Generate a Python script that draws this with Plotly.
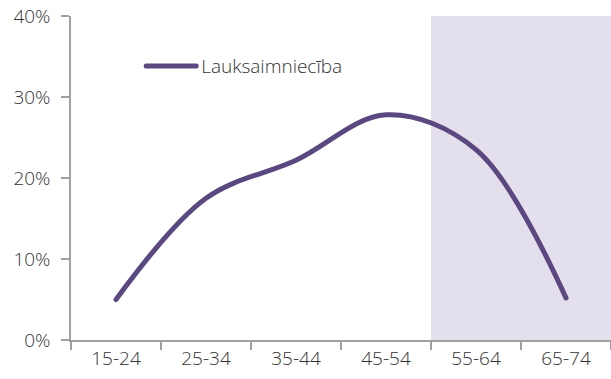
import plotly.graph_objects as go

categories = ["15-24", "25-34", "35-44", "45-54", "55-64", "65-74"]
values = [0.050, 0.175, 0.222, 0.278, 0.235, 0.052]
series_name = "Lauksaimniecība"
y_ticks = [0, 0.1, 0.2, 0.3, 0.4]
y_tick_labels = ["0%", "10%", "20%", "30%", "40%"]

line_color = "#5B4880"
shade_color = "#E4DFEC"
axis_color = "#A0A0A0"
font_color = "#333333"

fig = go.Figure()
fig.add_trace(go.Scatter(
    x=categories, y=values, name=series_name, mode="lines",
    line=dict(color=line_color, width=5, shape="spline", smoothing=1.0),
    showlegend=True,
))

fig.add_shape(type="rect", xref="x", yref="paper", x0=3.5, x1=5.5, y0=0, y1=1,
              fillcolor=shade_color, line=dict(width=0), layer="below")

fig.update_layout(
    width=611, height=379,
    margin=dict(l=71, r=0, t=16, b=39),
    paper_bgcolor="white", plot_bgcolor="white",
    font=dict(family="Open Sans", size=19, color=font_color, weight=300),
    showlegend=True,
    legend=dict(x=0.13, y=0.845, xanchor="left", yanchor="middle",
                bgcolor="rgba(0,0,0,0)",
                font=dict(size=19, color=font_color, weight=300),
                itemwidth=50),
    xaxis=dict(type="category", range=[-0.5, 5.5], tickson="boundaries",
               ticks="outside", ticklen=8, tickcolor=axis_color, tickwidth=1.5,
               showline=True, linecolor=axis_color, linewidth=1.5,
               showgrid=False, zeroline=False, fixedrange=True, automargin=False),
    yaxis=dict(range=[0, 0.4], tickvals=y_ticks, ticktext=y_tick_labels,
               ticks="outside", ticklen=8, tickcolor=axis_color, tickwidth=1.5,
               ticklabelstandoff=7,
               showline=True, linecolor=axis_color, linewidth=1.5,
               showgrid=False, zeroline=False, fixedrange=True, automargin=False),
)

post = (
    "document.body.style.margin='0';document.body.style.overflow='hidden';"
    "document.querySelectorAll('path.js-line').forEach(function(p){p.style.strokeLinecap='round';});"
)
fig.write_html("out.html", config={"displayModeBar": False}, post_script=post)
